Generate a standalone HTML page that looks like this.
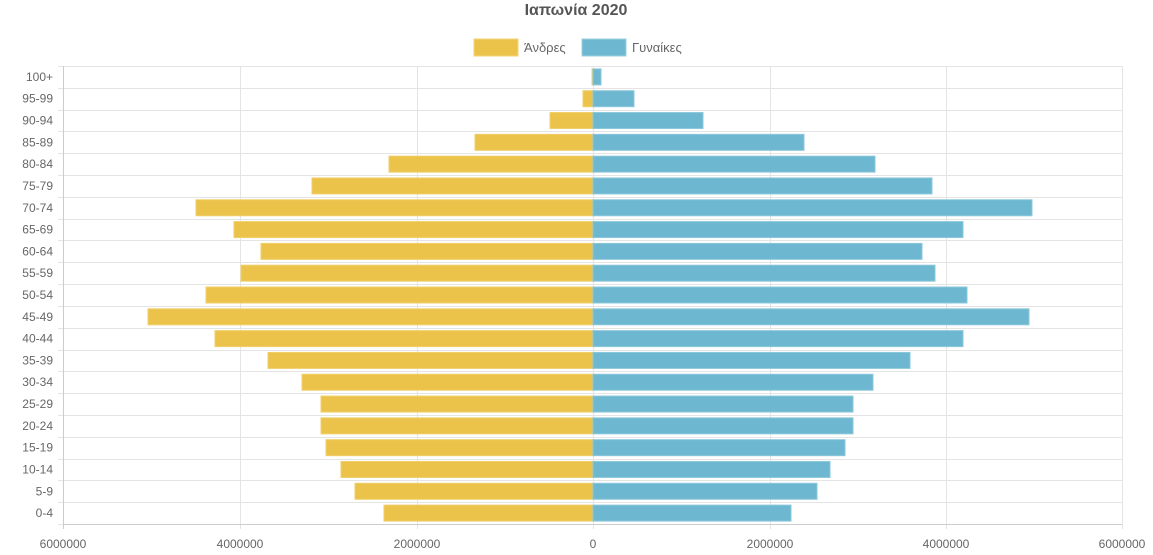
<!DOCTYPE html>
<html><head><meta charset="utf-8"><style>
html,body{margin:0;padding:0;background:#fff;}
svg{display:block;font-family:"Liberation Sans",sans-serif;}
</style></head><body>
<svg width="1153" height="555" viewBox="0 0 1153 555" xmlns="http://www.w3.org/2000/svg">
<text x="576" y="15" text-anchor="middle" font-size="16" font-weight="bold" fill="#555">Ιαπωνία 2020</text>
<rect x="474" y="39" width="44" height="17" fill="#ebc34a" stroke="#f3d57a"/>
<text x="524" y="52" font-size="13" fill="#666">Άνδρες</text>
<rect x="582" y="39" width="44" height="17" fill="#6db7d0" stroke="#9fd0e0"/>
<text x="632" y="52" font-size="13" fill="#666">Γυναίκες</text>
<g id="grid" stroke="#e4e4e4" stroke-width="1"></g>
<g id="bars"></g>
<g id="labels" font-size="12" fill="#666"></g>
<script>
(function(){
var ns="http://www.w3.org/2000/svg";
function el(p,t,a,txt){var e=document.createElementNS(ns,t);for(var k in a)e.setAttribute(k,a[k]);if(txt!==undefined)e.textContent=txt;p.appendChild(e);return e;}
var g=document.getElementById('grid'),b=document.getElementById('bars'),l=document.getElementById('labels');
var T=66,B=524,L=63,R=1122,C=593,rh=(B-T)/21;
for(var i=0;i<=21;i++){var y=Math.round(T+i*rh)+0.5;el(g,'line',{x1:L-5,x2:R,y1:y,y2:y});}
var xs=[63,240,417,593,770,946,1122];
var xl=["6000000","4000000","2000000","0","2000000","4000000","6000000"];
for(var i=0;i<7;i++){el(g,'line',{x1:xs[i]+0.5,x2:xs[i]+0.5,y1:T,y2:B+5,stroke:(i==0?'#ccc':'#e4e4e4')});
el(l,'text',{x:xs[i],y:548,'text-anchor':'middle'},xl[i]);}
el(g,'line',{x1:L,x2:R,y1:B+0.5,y2:B+0.5,stroke:'#ccc'});
var lab=["100+","95-99","90-94","85-89","80-84","75-79","70-74","65-69","60-64","55-59","50-54","45-49","40-44","35-39","30-34","25-29","20-24","15-19","10-14","5-9","0-4"];
var m=[592,583,550,475,389,312,196,234,261,241,206,148,215,268,302,321,321,326,341,355,384];
var f=[601,634,703,804,875,932,1032,963,922,935,967,1029,963,910,873,853,853,845,830,817,791];
for(var i=0;i<21;i++){var cy=T+rh*(i+0.5);
el(l,'text',{x:53,y:cy+4,'text-anchor':'end'},lab[i]);
el(b,'rect',{x:m[i],y:cy-8,width:C-m[i],height:16,fill:'#ebc34a',stroke:'#f0cf6a'});
el(b,'rect',{x:C,y:cy-8,width:f[i]-C,height:16,fill:'#6db7d0',stroke:'#8cc8dc'});}
})();
</script>
</svg>
</body></html>
